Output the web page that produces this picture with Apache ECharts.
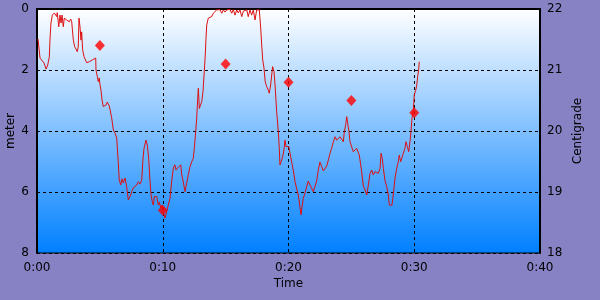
<!DOCTYPE html>
<html><head><meta charset="utf-8">
<script src="https://cdn.jsdelivr.net/npm/echarts@6/dist/echarts.min.js"></script>
<style>html,body{margin:0;padding:0;background:#8682c4;}#c{width:600px;height:300px;}</style>
</head><body><div id="c"></div>
<script>
// depth profile: time (minutes) and depth (meter)
const depthTimes = [0.08,0.24,0.37,0.56,0.72,0.85,0.98,1.03,1.11,1.22,1.38,1.51,1.57,1.61,1.73,1.83,1.91,1.99,2.09,2.17,2.28,2.36,2.49,2.57,2.68,2.76,2.84,2.89,3.00,3.10,3.20,3.28,3.34,3.42,3.50,3.55,3.63,3.74,3.84,3.95,4.06,4.16,4.27,4.40,4.53,4.67,4.69,4.80,4.87,4.95,5.01,5.09,5.17,5.27,5.33,5.49,5.59,5.75,5.94,6.07,6.20,6.34,6.40,6.46,6.54,6.66,6.76,6.86,7.00,7.13,7.26,7.40,7.53,7.66,7.79,7.93,8.06,8.19,8.33,8.41,8.51,8.67,8.77,8.88,8.99,9.07,9.17,9.25,9.33,9.44,9.52,9.65,9.73,9.84,9.94,10.04,10.18,10.31,10.44,10.58,10.71,10.84,10.97,11.05,11.19,11.29,11.43,11.51,11.63,11.77,11.90,12.03,12.17,12.30,12.43,12.51,12.62,12.70,12.78,12.83,12.91,13.02,13.10,13.20,13.30,13.38,13.44,13.50,13.62,13.76,13.89,14.02,14.15,14.29,14.42,14.55,14.69,14.82,14.95,15.09,15.21,15.35,15.48,15.61,15.75,15.88,16.01,16.14,16.28,16.41,16.54,16.68,16.80,16.94,17.07,17.20,17.34,17.47,17.60,17.68,17.79,17.87,17.95,18.05,18.15,18.27,18.39,18.47,18.58,18.69,18.74,18.85,18.93,19.06,19.19,19.27,19.32,19.46,19.54,19.64,19.72,19.80,19.90,20.02,20.12,20.25,20.38,20.52,20.65,20.78,20.91,20.99,21.10,21.18,21.31,21.45,21.57,21.71,21.84,21.97,22.11,22.24,22.37,22.50,22.64,22.77,22.90,23.04,23.17,23.30,23.43,23.56,23.70,23.83,23.96,24.10,24.23,24.36,24.44,24.55,24.63,24.71,24.81,24.89,25.03,25.15,25.29,25.42,25.55,25.63,25.74,25.82,25.95,26.08,26.22,26.35,26.48,26.62,26.74,26.88,27.01,27.14,27.28,27.36,27.46,27.54,27.67,27.81,27.94,28.02,28.13,28.23,28.33,28.47,28.61,28.73,28.81,28.92,29.03,29.13,29.26,29.34,29.45,29.56,29.66,29.74,29.82,29.92,30.00,30.12,30.20,30.27,30.35,30.40];
const depthValues = [0.98,1.61,1.67,1.77,1.97,1.84,1.57,1.02,0.46,0.20,0.13,0.12,0.25,0.12,0.58,0.20,0.46,0.20,0.58,0.30,0.25,0.36,0.30,0.42,0.33,0.42,0.46,1.02,1.24,1.31,1.40,1.24,0.30,0.59,1.02,0.75,1.34,1.56,1.61,1.76,1.77,1.73,1.77,1.67,1.67,1.61,2.00,2.22,2.38,2.26,2.49,2.66,2.98,3.20,3.25,3.15,3.05,3.18,3.57,3.97,4.07,4.23,4.62,5.01,5.61,5.77,5.57,5.70,5.54,5.83,6.26,6.15,5.99,5.86,5.83,5.77,5.66,5.74,5.61,5.01,4.57,4.30,4.46,4.89,5.66,6.10,6.32,6.43,6.15,6.20,6.15,6.43,6.33,6.52,6.43,6.65,6.86,6.65,6.43,6.20,5.66,5.21,5.11,5.28,5.21,5.17,5.11,5.44,5.66,5.99,5.71,5.44,5.17,5.01,4.90,4.57,4.02,3.58,2.93,2.60,3.26,3.31,3.04,2.71,2.06,1.51,0.96,0.52,0.30,0.25,0.25,0.14,0.10,0.03,0.09,0.02,0.14,0.03,0.10,0.03,0.07,0.01,0.14,0.02,0.20,0.03,0.13,0.03,0.25,0.07,0.03,0.03,0.25,0.03,0.20,0.03,0.36,0.03,0.01,0.03,0.63,1.18,1.67,1.93,2.39,2.55,2.66,2.76,2.49,2.07,1.89,2.06,2.49,3.37,4.02,4.57,5.11,4.95,4.84,4.62,4.30,4.51,4.57,4.51,4.73,5.01,5.28,5.66,5.90,6.10,6.48,6.75,6.43,6.20,6.04,6.00,5.64,5.77,5.83,5.99,5.93,5.64,5.28,5.02,5.17,5.31,5.34,5.15,4.95,4.73,4.57,4.36,4.19,4.30,4.24,4.19,4.24,4.35,4.02,3.80,3.53,3.75,4.02,4.35,4.30,4.68,4.62,4.57,4.51,4.79,5.11,5.34,5.80,5.93,6.10,5.77,5.39,5.28,5.44,5.33,5.38,5.39,5.22,4.73,4.90,5.22,5.61,5.83,6.10,6.43,6.48,6.43,6.10,5.55,5.22,5.01,4.79,5.01,5.06,4.73,4.57,4.35,4.51,4.68,4.35,4.02,3.58,3.37,2.82,2.66,2.49,2.22,2.00,1.73];
// temperature samples: time (minutes) and centigrade
const tempTimes = [5, 10, 15, 20, 25, 30];
const tempValues = [21.4, 18.7, 21.1, 20.8, 20.5, 20.3];

const depthData = depthTimes.map((t, i) => [t, depthValues[i]]);
const tempData = tempTimes.map((t, i) => [t, tempValues[i]]);
const fmtTime = v => Math.floor(v / 60) + ':' + String(v % 60).padStart(2, '0');
const font = 'DejaVu Sans';

const chart = echarts.init(document.getElementById('c'), null, {renderer: 'canvas'});
chart.setOption({
  backgroundColor: '#8682c4',
  animation: false,
  grid: {
    left: 37, right: 60, top: 9, bottom: 47, show: true,
    containLabel: false, outerBoundsMode: 'none',
    borderColor: '#000', borderWidth: 1,
    backgroundColor: new echarts.graphic.LinearGradient(0, 0, 0, 1, [
      {offset: 0, color: '#ffffff'}, {offset: 1, color: '#0080ff'}
    ])
  },
  xAxis: {
    type: 'value', min: 0, max: 40, interval: 10,
    name: 'Time', nameLocation: 'middle', nameGap: 25, nameMoveOverlap: false,
    nameTextStyle: {color: '#000', fontFamily: font, fontSize: 12},
    axisLine: {show: true, lineStyle: {color: '#000', width: 2}},
    axisTick: {show: false},
    axisLabel: {color: '#000', fontFamily: font, fontSize: 12, margin: 9, formatter: fmtTime},
    splitLine: {show: true, lineStyle: {color: '#000', type: [3, 3], width: 1}}
  },
  yAxis: [{
    type: 'value', min: 0, max: 8, interval: 2, inverse: true, position: 'left',
    name: 'meter', nameLocation: 'middle', nameGap: 20, nameRotate: 90, nameMoveOverlap: false,
    nameTextStyle: {color: '#000', fontFamily: font, fontSize: 12},
    axisLine: {show: true, lineStyle: {color: '#000', width: 2}},
    axisTick: {show: false},
    axisLabel: {color: '#000', fontFamily: font, fontSize: 12, margin: 8},
    splitLine: {show: true, lineStyle: {color: '#000', type: [3, 3], width: 1}}
  }, {
    type: 'value', min: 18, max: 22, interval: 1, position: 'right',
    name: 'Centigrade', nameLocation: 'middle', nameGap: 32, nameRotate: 90, nameMoveOverlap: false,
    nameTextStyle: {color: '#000', fontFamily: font, fontSize: 12},
    axisLine: {show: true, lineStyle: {color: '#000', width: 2}},
    axisTick: {show: false},
    axisLabel: {color: '#000', fontFamily: font, fontSize: 12, margin: 7},
    splitLine: {show: false}
  }],
  series: [{
    type: 'line', data: depthData, yAxisIndex: 0,
    showSymbol: false, symbol: 'none',
    lineStyle: {color: '#dd1010', width: 1}, z: 3
  }, {
    type: 'scatter', data: tempData, yAxisIndex: 1,
    symbol: 'diamond', symbolSize: [10, 11],
    itemStyle: {color: '#ff0000'}, z: 4
  }]
});
</script>
</body></html>
